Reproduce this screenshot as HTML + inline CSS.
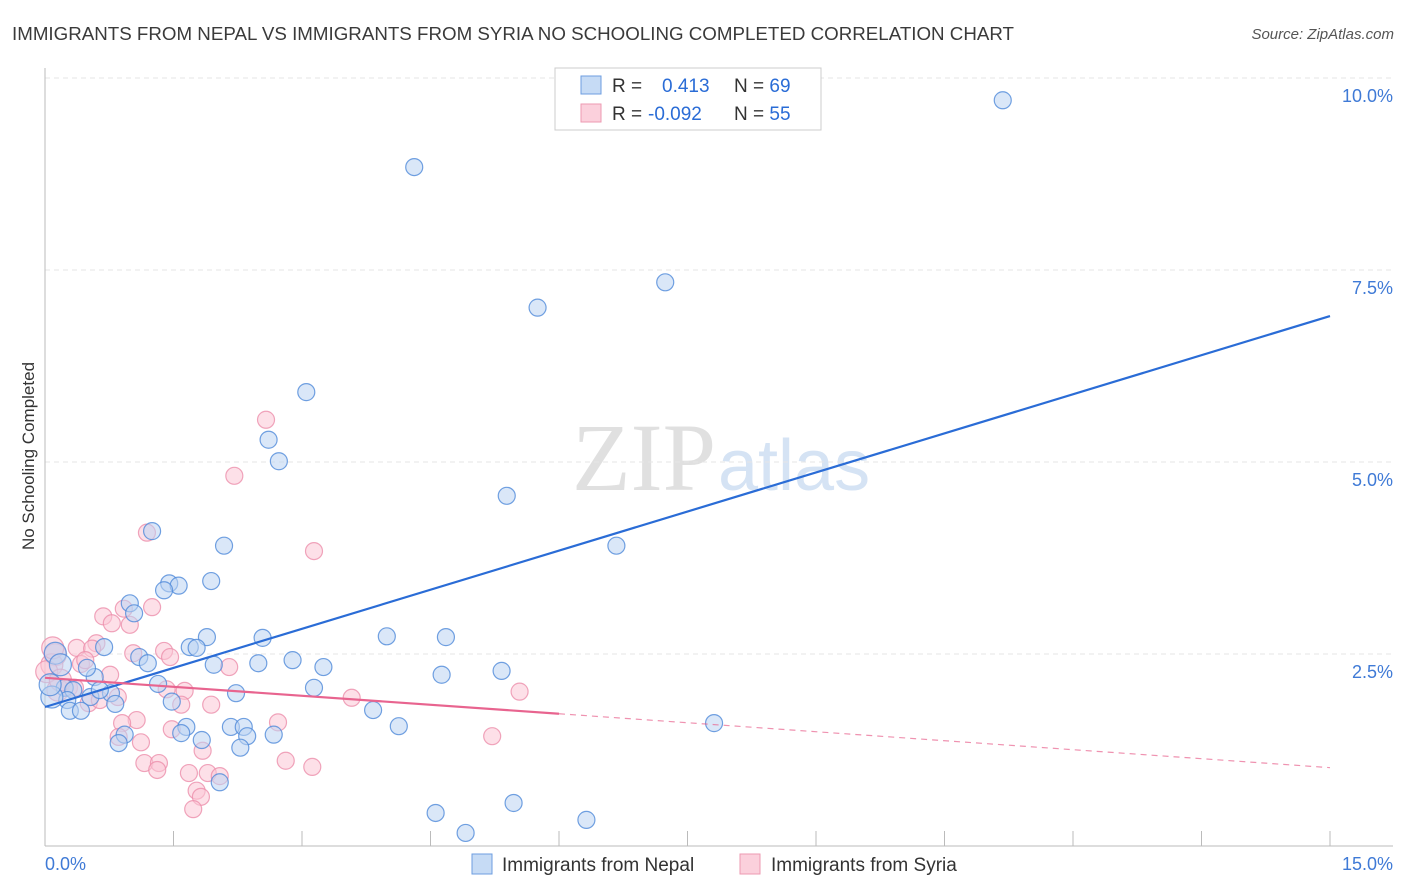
<!DOCTYPE html>
<html><head><meta charset="utf-8"><style>
body{margin:0;background:#fff;font-family:"Liberation Sans",sans-serif;}
svg{display:block}
</style></head><body>
<svg id="chart" width="1406" height="892">
<text x="12" y="40" font-size="18" fill="#3a3a3a" textLength="1002" lengthAdjust="spacingAndGlyphs">IMMIGRANTS FROM NEPAL VS IMMIGRANTS FROM SYRIA NO SCHOOLING COMPLETED CORRELATION CHART</text>
<text x="1394" y="39" font-size="15" fill="#555" font-style="italic" text-anchor="end">Source: ZipAtlas.com</text>
<text transform="translate(34,456) rotate(-90)" font-size="17" fill="#333" text-anchor="middle">No Schooling Completed</text>
<text x="716" y="490" font-size="96" fill="#e0e0e0" text-anchor="end" font-family="Liberation Serif">ZIP</text>
<text x="718" y="490" font-size="72" fill="#d5e3f4">atlas</text>
<g id="grid"></g><g id="axes"></g><g id="pts"></g><g id="lines"></g>
<g>
<rect x="555" y="68" width="266" height="62" fill="#fff" stroke="#ccc"/>
<rect x="581" y="76" width="20" height="18" fill="#c6dbf5" stroke="#6d9ee0"/>
<rect x="581" y="104" width="20" height="18" fill="#fbd0dc" stroke="#ec9ab2"/>
<text x="612" y="92" font-size="19" fill="#333">R = <tspan fill="#2a6cd6" x="662">0.413</tspan><tspan x="734" fill="#333">N = </tspan><tspan fill="#2a6cd6">69</tspan></text>
<text x="612" y="120" font-size="19" fill="#333">R = <tspan fill="#2a6cd6" x="648">-0.092</tspan><tspan x="734" fill="#333">N = </tspan><tspan fill="#2a6cd6">55</tspan></text>
</g>
<g>
<rect x="472" y="854" width="20" height="20" fill="#c6dbf5" stroke="#6d9ee0"/>
<text x="502" y="871" font-size="19" fill="#333">Immigrants from Nepal</text>
<rect x="740" y="854" width="20" height="20" fill="#fbd0dc" stroke="#ec9ab2"/>
<text x="771" y="871" font-size="19" fill="#333">Immigrants from Syria</text>
</g>
<text x="45" y="870" font-size="18" fill="#3f7ad6">0.0%</text>
<text x="1393" y="870" font-size="18" fill="#3f7ad6" text-anchor="end">15.0%</text>
</svg>
<script>
const yTicks=[2.5,5.0,7.5,10.0];
const yTickLabels=["2.5%","5.0%","7.5%","10.0%"];
const xTicks=[0,1.5,3,4.5,6,7.5,9,10.5,12,13.5,15];
const nepalX=[11.18,4.31,7.24,5.75,3.05,2.61,2.73,5.39,1.25,6.67,2.09,1.94,1.45,1.56,1.39,0.99,1.04,1.89,2.54,3.99,4.68,0.69,1.69,1.77,0.12,1.10,1.20,2.89,1.97,2.49,3.25,5.33,4.63,0.58,0.49,1.32,0.23,0.33,2.23,3.14,0.77,0.53,0.82,1.48,0.26,0.08,3.83,0.29,0.42,1.65,2.17,2.32,4.13,7.81,1.59,2.36,2.67,0.93,0.86,1.83,2.28,2.04,5.47,4.56,4.91,6.32,0.06,0.18,0.64];
const nepalY=[9.71,8.84,7.34,7.01,5.91,5.29,5.01,4.56,4.10,3.91,3.91,3.45,3.42,3.39,3.33,3.16,3.03,2.72,2.71,2.73,2.72,2.59,2.59,2.58,2.51,2.46,2.38,2.42,2.36,2.38,2.33,2.28,2.23,2.20,2.32,2.11,2.06,2.03,1.99,2.06,1.99,1.94,1.85,1.88,1.90,1.94,1.77,1.76,1.76,1.55,1.55,1.55,1.56,1.60,1.47,1.43,1.45,1.45,1.34,1.38,1.28,0.83,0.56,0.43,0.17,0.34,2.10,2.36,2.03];
const syriaX=[2.58,2.21,3.14,1.19,1.25,0.68,0.92,0.78,0.99,0.60,0.37,0.55,0.12,0.08,1.39,1.46,1.03,0.42,0.76,0.28,1.63,1.42,0.15,0.51,0.85,1.94,1.59,2.15,3.58,5.54,2.72,1.07,0.90,1.48,0.86,1.12,1.84,1.16,1.33,1.31,1.68,1.90,2.04,1.77,1.82,1.73,2.81,3.12,5.22,0.09,0.02,0.18,0.35,0.64,0.47];
const syriaY=[5.55,4.82,3.84,4.08,3.11,2.99,3.09,2.90,2.88,2.64,2.58,2.57,2.49,2.36,2.54,2.46,2.51,2.37,2.23,2.06,2.02,2.04,2.03,1.86,1.94,1.84,1.84,2.33,1.93,2.01,1.61,1.64,1.60,1.52,1.42,1.35,1.24,1.08,1.08,0.99,0.95,0.95,0.91,0.72,0.64,0.48,1.11,1.03,1.43,2.58,2.27,2.16,2.06,1.90,2.42];
const nepalTrend=[1.81,6.90];
const syriaTrend=[2.19,1.02];
const sx=v=>45+v/15*1285, sy=v=>846-v/10*768;
const NS="http://www.w3.org/2000/svg";
function mk(tag,parent,attrs){const e=document.createElementNS(NS,tag);for(const k in attrs)e.setAttribute(k,attrs[k]);parent.appendChild(e);return e;}
const grid=document.getElementById('grid'),axes=document.getElementById('axes'),pts=document.getElementById('pts'),lines=document.getElementById('lines');
yTicks.forEach((t,i)=>{
 const l=mk('line',grid,{x1:45,x2:1393,y1:sy(t),y2:sy(t),stroke:'#e6e6e6','stroke-dasharray':'5,4'});
 
 
 const tx=mk('text',grid,{x:1393,y:sy(t)+24,'font-size':18,fill:'#3f7ad6','text-anchor':'end'});
 tx.textContent=yTickLabels[i];
 
 
});
const ax=mk('line',axes,{x1:45,x2:1393,y1:846,y2:846,stroke:'#bbb'});


const ay=mk('line',axes,{x1:45,x2:45,y1:68,y2:846,stroke:'#bbb'});


xTicks.forEach(t=>{
 const l=mk('line',axes,{x1:sx(t),x2:sx(t),y1:831,y2:846,stroke:'#bbb'});
 
 
});
function drawPts(X,Y,fill,stroke,name){
 X.forEach((x,i)=>{
  const r=(x<0.2)?11:8.5;
  const c=mk('circle',pts,{cx:sx(x),cy:sy(Y[i]),r:r,fill:fill,'fill-opacity':0.55,stroke:stroke,'stroke-width':1.2,'stroke-opacity':0.8});
  
  
 });
}
drawPts(syriaX,syriaY,'#fbc6d5','#ec8fab','point-syria');
drawPts(nepalX,nepalY,'#bcd4f3','#4f8ad9','point-nepal');
const bl=mk('line',lines,{x1:sx(0),y1:sy(nepalTrend[0]),x2:sx(15),y2:sy(nepalTrend[1]),stroke:'#2a6cd6','stroke-width':2.2});


const pAt=x=>syriaTrend[0]+(syriaTrend[1]-syriaTrend[0])*x/15;
const pl=mk('line',lines,{x1:sx(0),y1:sy(pAt(0)),x2:sx(6),y2:sy(pAt(6)),stroke:'#e8648f','stroke-width':2.2});


const pd=mk('line',lines,{x1:sx(6),y1:sy(pAt(6)),x2:sx(15),y2:sy(pAt(15)),stroke:'#e8648f','stroke-width':1.2,'stroke-dasharray':'6,5','stroke-opacity':0.7});


</script>
</body></html>
